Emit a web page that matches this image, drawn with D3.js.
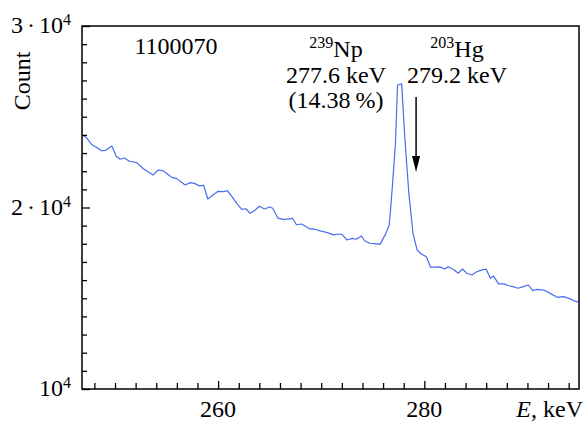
<!DOCTYPE html>
<html><head><meta charset="utf-8">
<script src="https://cdn.jsdelivr.net/npm/d3@7"></script>
<style>
body{margin:0;background:#fff}
svg{display:block}
</style>
</head><body><svg id="c" width="586" height="421"></svg>
<script>
const energies = [246.8,247.2,247.8,248.2,248.7,249.1,249.7,250.1,250.5,250.9,251.4,252.1,252.7,253.2,253.7,254.2,254.7,255.0,255.5,256.0,256.8,257.3,257.7,258.2,258.6,259.0,259.5,260.0,260.5,260.9,261.4,261.8,262.3,262.7,263.1,263.6,264.0,264.5,265.0,265.3,265.8,266.3,267.0,267.2,267.6,268.1,268.9,269.4,269.9,270.5,271.2,271.7,272.0,272.5,273.0,273.4,273.9,274.2,274.7,275.2,275.7,276.2,276.6,276.9,277.2,277.4,277.8,278.1,278.5,278.9,279.3,279.7,280.2,280.6,281.1,281.5,282.0,282.3,282.8,283.3,283.7,284.1,284.6,285.1,285.6,286.0,286.4,286.7,287.2,287.7,288.2,288.6,289.1,289.6,290.1,290.5,290.9,291.6,292.2,292.9,293.5,294.1,294.8,295.0];
const counts = [24000,23870,23440,23320,23130,23150,23390,22840,22660,22730,22550,22470,22160,21970,21790,22070,22010,21890,21660,21590,21240,21370,21330,21190,21220,20470,20690,20890,20870,20930,20560,20230,19900,19930,19680,19860,20070,19920,20030,19960,19410,19350,19370,19420,19050,19090,18820,18800,18710,18630,18490,18540,18520,18210,18300,18250,18430,18170,18030,18010,17970,18490,19040,21150,23540,26750,26810,23900,20780,18580,17660,17440,17290,16710,16710,16730,16610,16740,16600,16380,16610,16380,16280,16460,16560,16600,16100,16230,15790,15790,15690,15640,15550,15640,15730,15420,15490,15450,15270,15050,15090,14980,14790,14850];
const xMajorTicks = [260, 280];
const xMinorTicks = [248,250,252,254,256,258,262,264,266,268,270,272,274,276,278,282,284,286,288,290,292,294];
const yMajorTicks = [10000, 20000, 30000];
const yMinorTicks = [11000,12000,13000,14000,15000,16000,17000,18000,19000,21000,22000,23000,24000,25000,26000,27000,28000,29000];
const yTickLabels = [["10","4"],["2\u2006\u00b7\u200610","4"],["3\u2006\u00b7\u200610","4"]];
const xTitle = ["E", ", keV"];
const yTitle = "Count";
const sampleLabel = "1100070";
const npLines = [["239","Np"],["277.6 keV"],["(14.38\u2009%)"]];
const hgLines = [["203","Hg"],["279.2 keV"]];
const hgEnergy = 279.2;

const FONT = "'Liberation Serif'";
const L=82, R=579, T=26, B=389;
const svg = d3.select("#c");
const x = d3.scaleLinear().domain([246.8, 295]).range([L, R]);
const y = d3.scaleLinear().domain([10000, 30000]).range([B, T]);
const FS = 24, SUP = 16;
function txt(){ return svg.append("text").attr("font-family",FONT).attr("font-size",FS).attr("fill","#000"); }

// line
const line = d3.line().x((d,i)=>x(energies[i])).y(d=>y(d));
svg.append("path").datum(counts).attr("d", line)
  .attr("fill","none").attr("stroke","#4a6cec").attr("stroke-width",1.2).attr("stroke-linejoin","round");

// axes ticks
function styleAxis(g){ g.select(".domain").remove(); g.selectAll("line").attr("stroke","#000").attr("stroke-width",1.3); g.selectAll("text").remove(); }
svg.append("g").attr("transform",`translate(0,${B})`).call(d3.axisBottom(x).tickValues(xMinorTicks).tickSize(-6).tickFormat("")).call(styleAxis);
svg.append("g").attr("transform",`translate(0,${B})`).call(d3.axisBottom(x).tickValues(xMajorTicks).tickSize(-8).tickFormat("")).call(styleAxis);
svg.append("g").attr("transform",`translate(${L},0)`).call(d3.axisLeft(y).tickValues(yMinorTicks).tickSize(-5).tickFormat("")).call(styleAxis);
svg.append("g").attr("transform",`translate(${L},0)`).call(d3.axisLeft(y).tickValues(yMajorTicks).tickSize(-8).tickFormat("")).call(styleAxis);

// frame
svg.append("rect").attr("x",L).attr("y",T).attr("width",R-L).attr("height",B-T)
  .attr("fill","none").attr("stroke","#000").attr("stroke-width",1.5);

// x labels
xMajorTicks.forEach(v=>{ txt().attr("x",x(v)).attr("y",417).attr("text-anchor","middle").text(v); });
const xt = txt().attr("x",583).attr("y",417).attr("text-anchor","end");
xt.append("tspan").attr("font-style","italic").text(xTitle[0]);
xt.append("tspan").text(xTitle[1]);

// y labels
yMajorTicks.forEach((v,i)=>{
  const t = txt().attr("x",71).attr("y",y(v)+7).attr("text-anchor","end");
  t.append("tspan").text(yTickLabels[i][0]);
  t.append("tspan").attr("font-size",SUP).attr("dy",-8).text(yTickLabels[i][1]);
});
txt().attr("transform","translate(30,81) rotate(-90)").attr("text-anchor","middle").text(yTitle);

// annotations
txt().attr("x",176).attr("y",54).attr("text-anchor","middle").text(sampleLabel);
function block(lines, cx, y0){
  lines.forEach((ln,i)=>{
    const t = txt().attr("x",cx).attr("y",y0+i*25.5).attr("text-anchor","middle");
    if(ln.length===2){
      t.append("tspan").attr("font-size",SUP).attr("dy",-9).text(ln[0]);
      t.append("tspan").attr("dy",9).text(ln[1]);
    } else t.text(ln[0]);
  });
}
block(npLines, 336, 57);
block(hgLines, 457, 57);

// arrow
const ax = x(hgEnergy);
svg.append("line").attr("x1",ax).attr("x2",ax).attr("y1",97).attr("y2",160).attr("stroke","#000").attr("stroke-width",1.5);
svg.append("path").attr("d",`M${ax-4},156 L${ax+4},156 L${ax},172 Z`).attr("fill","#000");
</script>
</body></html>
